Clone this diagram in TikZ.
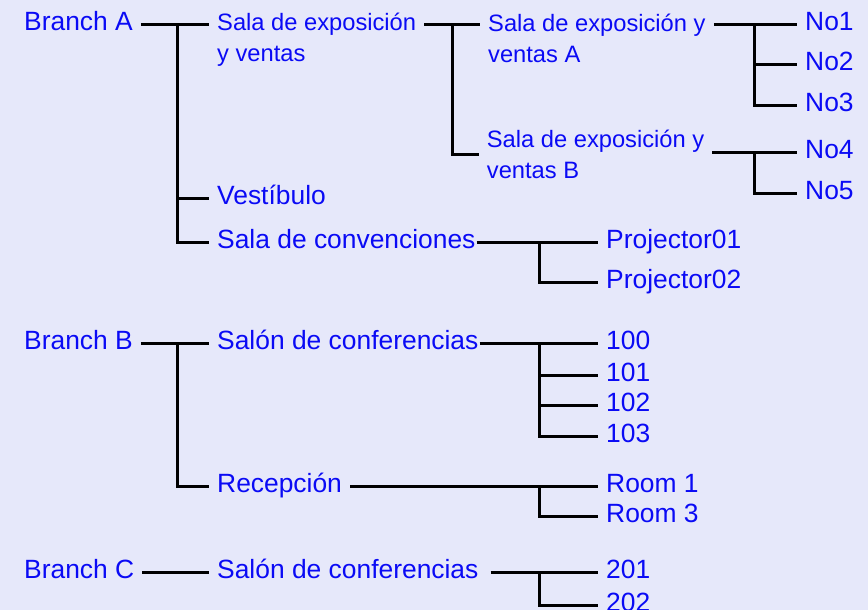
\documentclass[tikz,border=0pt]{standalone}
\usepackage{fontspec}
\setmainfont{Liberation Sans}
\definecolor{bgcol}{RGB}{230,232,250}
\definecolor{txtblue}{RGB}{10,10,245}
\tikzset{
  bigtxt/.style={anchor=base west, inner xsep=8pt, inner ysep=0pt, text height=12pt, text depth=0pt,
    text=txtblue, font=\fontsize{26.4}{30.7}\selectfont},
  smalltxt/.style={anchor=base west, inner xsep=8pt, inner ysep=0pt, align=left,
    text=txtblue, font=\fontsize{23.7}{30.7}\selectfont},
  conn/.style={line width=3pt},
}
\begin{document}
\begin{tikzpicture}[x=1pt,y=-1pt]
\useasboundingbox (0,0) rectangle (868,610);
\fill[bgcol] (0,0) rectangle (868,610);
\clip (0,0) rectangle (868,610);

% branches
\node[bigtxt] (brA) at (16,31) {Branch A};
\node[bigtxt] (brB) at (16,349) {Branch B};
\node[bigtxt] (brC) at (16,578.3) {Branch C};

% rooms (multi-line nodes sit on their last line)
\node[smalltxt] (salaEV) at (209,61.7) {Sala de exposición\\y ventas};
\node[bigtxt] (vest) at (209,204) {Vestíbulo};
\node[bigtxt] (conv) at (209,248) {Sala de convenciones};
\node[bigtxt] (confB) at (209,349) {Salón de conferencias};
\node[bigtxt] (recep) at (209,492.5) {Recepción};
\node[bigtxt] (confC) at (209,578.3) {Salón de conferencias};
\node[smalltxt] (evA) at (480,62.3) {Sala de exposición y\\ventas A};
\node[smalltxt] (evB) at (478.7,178.3) {Sala de exposición y\\ventas B};

% projectors
\node[bigtxt] (no1) at (797,31) {No1};
\node[bigtxt] (no2) at (797,70.7) {No2};
\node[bigtxt] (no3) at (797,111.3) {No3};
\node[bigtxt] (no4) at (797,158.3) {No4};
\node[bigtxt] (no5) at (797,199.3) {No5};
\node[bigtxt] (proj1) at (598,248) {Projector01};
\node[bigtxt] (proj2) at (598,288.3) {Projector02};
\node[bigtxt] (r100) at (598,349) {100};
\node[bigtxt] (r101) at (598,381) {101};
\node[bigtxt] (r102) at (598,411.7) {102};
\node[bigtxt] (r103) at (598,442.7) {103};
\node[bigtxt] (room1) at (598,492.5) {Room 1};
\node[bigtxt] (room3) at (598,522.7) {Room 3};
\node[bigtxt] (r201) at (598,578.3) {201};
\node[bigtxt] (r202) at (598,611.5) {202};

% bus lines
\coordinate (busA) at (177,0);
\coordinate (busEV) at (452,0);
\coordinate (busN) at (754,0);
\coordinate (busR) at (539,0);

% Branch A
\draw[conn] (brA.east) -- (brA.east -| salaEV.west);
\draw[conn] (brA.east -| busA) |- (vest.west);
\draw[conn] (brA.east -| busA) |- (conv.west);
\draw[conn] (brA.east -| salaEV.east) -- (brA.east -| evA.west);
\draw[conn] (brA.east -| busEV) |- (evB.west);
\draw[conn] (no1.west -| evA.east) -- (no1.west);
\draw[conn] (no1.west -| busN) |- (no2.west);
\draw[conn] (no1.west -| busN) |- (no3.west);
\draw[conn] (no4.west -| evB.east) -- (no4.west);
\draw[conn] (no4.west -| busN) |- (no5.west);
\draw[conn] ([xshift=-7pt]conv.east) -- (proj1.west);
\draw[conn] (proj1.west -| busR) |- (proj2.west);

% Branch B
\draw[conn] (brB.east) -- (confB.west);
\draw[conn] (brB.east -| busA) |- (recep.west);
\draw[conn] ([xshift=-7pt]confB.east) -- (r100.west);
\foreach \c in {r101,r102,r103}
  \draw[conn] (r100.west -| busR) |- (\c.west);
\draw[conn] (recep.east) -- (room1.west);
\draw[conn] (room1.west -| busR) |- (room3.west);

% Branch C
\draw[conn] (brC.east) -- (confC.west);
\draw[conn] ([xshift=4pt]confC.east) -- (r201.west);
\draw[conn] (r201.west -| busR) |- (r202.west);
\end{tikzpicture}
\end{document}
